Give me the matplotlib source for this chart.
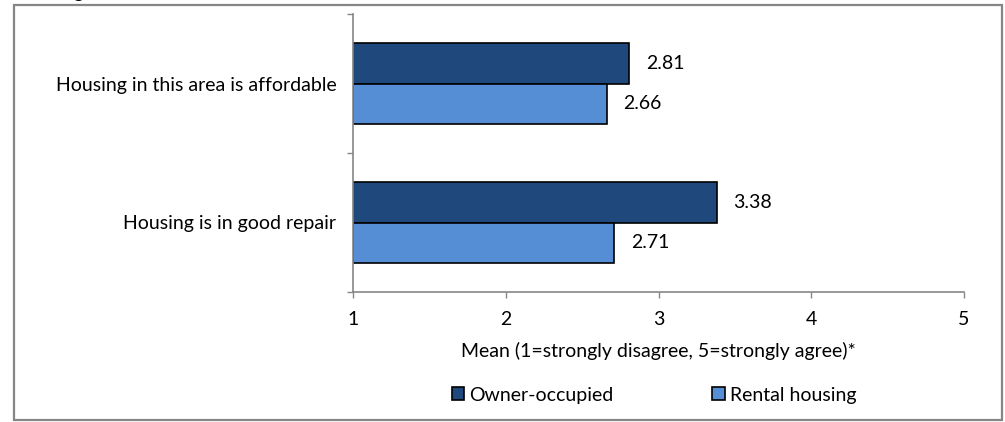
import matplotlib
matplotlib.use("Agg")
import matplotlib.pyplot as plt
from matplotlib.patches import Rectangle
import numpy as np

plt.rcParams['font.family'] = ['Lato', 'DejaVu Sans']

categories = ["Housing in this area is affordable", "Housing is in good repair"]
series_names = ["Owner-occupied", "Rental housing"]
owner = [2.81, 3.38]
rental = [2.66, 2.71]
xticks = [1, 2, 3, 4, 5]
xlabel = "Mean (1=strongly disagree, 5=strongly agree)*"

FS = 14
W, H = 1005, 422
fig = plt.figure(figsize=(W / 100, H / 100), dpi=100)

# outer chart border
fig.patches.append(Rectangle((14 / W, 1 - 420 / H), (1002 - 14) / W, (420 - 5) / H,
                             transform=fig.transFigure, fill=False,
                             edgecolor='#868686', linewidth=1.6))

# clipped title remnant at very top
fig.text(84 / W, 1 + 2 / H, "Housing", ha='right', va='baseline', fontsize=FS, color='black')

ax = fig.add_axes([353 / W, 1 - 292 / H, (964 - 353) / W, (292 - 14) / H])

h = 0.288
y = np.arange(len(categories))
dark = '#1F497D'
light = '#558ED5'
b1 = ax.barh(y - h / 2, np.array(owner) - 1, left=1, height=h, color=dark,
             edgecolor='black', linewidth=1.2, label=series_names[0])
b2 = ax.barh(y + h / 2, np.array(rental) - 1, left=1, height=h, color=light,
             edgecolor='black', linewidth=1.2, label=series_names[1])

for bars, vals in ((b1, owner), (b2, rental)):
    for bar, v in zip(bars, vals):
        ax.annotate(f"{v:.2f}", (v, bar.get_y() + bar.get_height() / 2),
                    xytext=(12, 0), textcoords='offset points', ha='left', va='center',
                    fontsize=FS, color='black')

ax.set_xlim(1, 5)
ax.set_ylim(len(categories) - 0.5, -0.5)
ax.set_xticks(xticks)
ax.set_xticklabels([str(t) for t in xticks], fontsize=FS)
ax.set_yticks(np.arange(-0.5, len(categories)), minor=False)
ax.set_yticklabels([])
ax.set_yticks(y, minor=True)
ax.set_yticklabels(categories, minor=True, fontsize=FS)
ax.tick_params(axis='y', which='minor', length=0, pad=12)
ax.tick_params(axis='y', which='major', length=4.5, color='#868686', width=1)
ax.tick_params(axis='x', length=4.5, color='#868686', width=1, pad=9)
ax.set_xlabel(xlabel, fontsize=FS, labelpad=10)

for s in ('top', 'right'):
    ax.spines[s].set_visible(False)
for s in ('left', 'bottom'):
    ax.spines[s].set_color('#868686')
    ax.spines[s].set_linewidth(1.2)

leg = fig.legend(handles=[b1, b2], labels=series_names, loc='center',
                 bbox_to_anchor=(654 / W, 1 - 395 / H), ncol=2, frameon=False,
                 fontsize=FS, handlelength=0.65, handleheight=0.65,
                 handletextpad=0.25, columnspacing=5.1)

fig.savefig("out.png", dpi=100)
